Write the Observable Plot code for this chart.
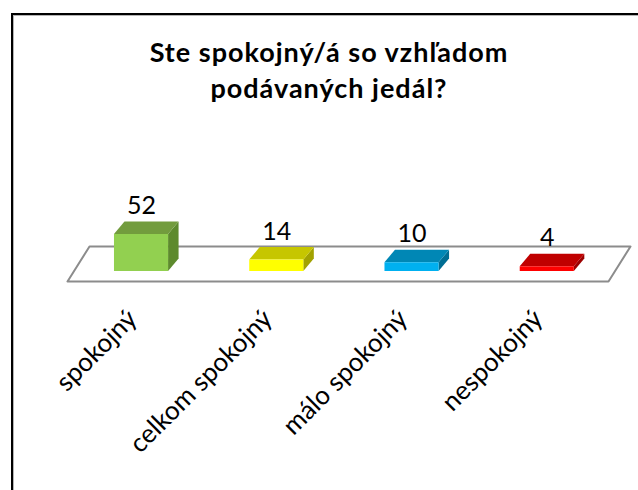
<!DOCTYPE html>
<html><head><meta charset="utf-8">
<script src="https://cdn.jsdelivr.net/npm/d3@7"></script>
<script src="https://cdn.jsdelivr.net/npm/@observablehq/plot@0.6"></script>
<style>
html,body{margin:0;padding:0;background:#fff;}
#wrap{position:relative;width:638px;height:490px;overflow:hidden;background:#fff;}
#chart{position:absolute;left:0;top:0;}
#frame{position:absolute;left:11px;top:13px;width:700px;height:600px;border-left:2px solid #000;border-top:2px solid #000;box-shadow:inset 1px 1px 0 #b4b4b4;pointer-events:none;}
#title{position:absolute;left:0;top:34px;width:658px;text-align:center;font-family:Lato,sans-serif;font-weight:bold;font-size:27px;letter-spacing:1px;line-height:36px;color:#000;}
</style></head>
<body>
<div id="wrap">
  <div id="chart"></div>
  <div id="title">Ste spokojný/á so vzhľadom<br>podávaných jedál?</div>
  <div id="frame"></div>
</div>
<script>
const categories = ["spokojný", "celkom spokojný", "málo spokojný", "nespokojný"];
const values = [52, 14, 10, 4];
const frontColors = ["#92d050", "#ffff00", "#00b0f0", "#ff0000"];
const topColors = ["#729c3d", "#c6c600", "#0087b5", "#c00000"];
const sideColors = ["#5d8a2d", "#a2a200", "#006d93", "#9c0000"];

// scale setup
const xDomain = [0, 4], xRange = [73.4, 614.4];
const yDomain = [-3, 100], yRange = [271, 201.7];
const kx = (xRange[1] - xRange[0]) / (xDomain[1] - xDomain[0]);
const ky = (yRange[0] - yRange[1]) / (yDomain[1] - yDomain[0]);
const base = yDomain[0];
const half = 0.2;                 // half bar width in x units
const dX = 10.5 / kx, dY = 12.5 / ky;   // bar depth

const bars = categories.map((c, i) => ({c, i, v: values[i], xm: i + 0.5, x1: i + 0.5 - half, x2: i + 0.5 + half}));

const topRows = bars.flatMap(b => [
  {c: b.c, y: b.v, x1: b.x1, x2: b.x2},
  {c: b.c, y: b.v + dY, x1: b.x1 + dX, x2: b.x2 + dX}
]);
const sideRows = bars.flatMap(b => [
  {c: b.c, x: b.x2, y1: base, y2: b.v},
  {c: b.c, x: b.x2 + dX, y1: base + dY, y2: b.v + dY}
]);

// floor spanning the x domain, with 3D depth
const fFront = {dx: -6.4 / kx, dy: -10 / ky}, fBack = {dx: 15.6 / kx, dy: 25 / ky};
const floor = [
  {x: xDomain[0] + fFront.dx, y: base + fFront.dy},
  {x: xDomain[1] + fFront.dx, y: base + fFront.dy},
  {x: xDomain[1] + fBack.dx, y: base + fBack.dy},
  {x: xDomain[0] + fBack.dx, y: base + fBack.dy},
  {x: xDomain[0] + fFront.dx, y: base + fFront.dy}
];

const colorOf = (arr) => d => arr[categories.indexOf(d.c)];

const plot = Plot.plot({
  width: 638, height: 490,
  style: {background: "transparent", fontFamily: "Lato, sans-serif"},
  x: {domain: xDomain, range: xRange, axis: null},
  y: {domain: yDomain, range: yRange, axis: null},
  marks: [
    Plot.line(floor, {x: "x", y: "y", stroke: "#8c8c8c", strokeWidth: 2, curve: "linear"}),
    Plot.areaY(sideRows, {x: "x", y1: "y1", y2: "y2", z: "c", fill: colorOf(sideColors), curve: "linear"}),
    Plot.areaX(topRows, {y: "y", x1: "x1", x2: "x2", z: "c", fill: colorOf(topColors), curve: "linear"}),
    Plot.rect(bars, {x1: "x1", x2: "x2", y1: base, y2: "v", fill: (d, i) => frontColors[i]}),
    Plot.text(bars, {x: "xm", y: d => d.v + dY, text: d => String(d.v), lineAnchor: "bottom", dy: -8, fontSize: 25, fill: "#000"}),
    Plot.text(bars, {x: "xm", y: base, text: "c", rotate: -45, textAnchor: "end", lineAnchor: "top", dx: -16, dy: 36, fontSize: 26, fill: "#000", style: "letter-spacing:0.4px"})
  ]
});
document.getElementById("chart").appendChild(plot);
</script>
</body></html>
